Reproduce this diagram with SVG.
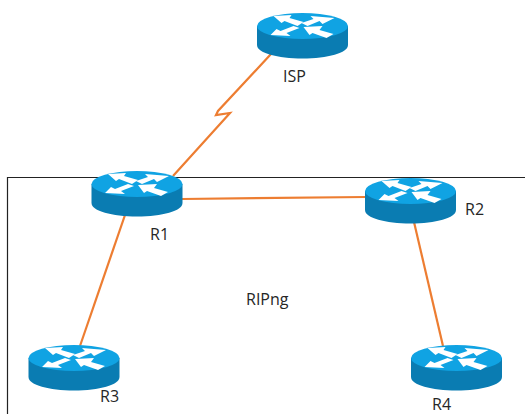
<svg xmlns="http://www.w3.org/2000/svg" width="525" height="414" viewBox="0 0 525 414">
<style>
.frame{fill:none;stroke:#222;stroke-width:1.2}
.link{fill:none;stroke:#ed7d31;stroke-width:2.2;stroke-linejoin:miter}
.lbl{font-family:"Open Sans","Liberation Sans",sans-serif;font-size:16px;fill:#262626}
.side{fill:#0a7cb2}
.top{fill:#10a3e3}
.arr{fill:#ffffff}
</style>
<defs>
<g id="router">
<path class="side" d="M-45.500 0V19C-45.500 27 -25 32.500 0 32.500S45.500 27 45.500 19V0Z"/>
<ellipse class="top" cx="0" cy="0" rx="45.500" ry="13"/>
<path class="arr" d="M-29 -10L-11 -11L-13 -8L1 -4L-5 0L-18 -5L-21 -3Z"/>
<path class="arr" d="M32 -8L20 -2L17 -5L5 0L-1 -3L11 -7L8 -10Z"/>
<path class="arr" d="M-32 9L-26 3L-22 5L-9 0L-3 2L-16 7L-12 10Z"/>
<path class="arr" d="M1 1L20 0L17 4L31 8L24 12L10 7L7 9Z"/>
</g>
</defs>
<g id="boundary"><path class="frame" d="M7.500 414V177.500H525"/></g>
<g id="connectors">
<path class="link" d="M271 54L218 111L216 115L230 113L173 176"/>
<path class="link" d="M182 199L366 197"/>
<path class="link" d="M125 215L80 346"/>
<path class="link" d="M414 222L443 346"/>
</g>
<g id="ISP"><use href="#router" x="302.500" y="26"/><text class="lbl" x="283" y="82">ISP</text></g>
<g id="R1"><use href="#router" x="137" y="184"/><text class="lbl" x="150" y="240">R1</text></g>
<g id="R2"><use href="#router" x="410.500" y="191"/><text class="lbl" x="465" y="215">R2</text></g>
<g id="R3"><use href="#router" x="74" y="358"/><text class="lbl" x="100" y="402">R3</text></g>
<g id="R4"><use href="#router" x="456.500" y="358"/><text class="lbl" x="432" y="410">R4</text></g>
<g id="area-label"><text class="lbl" x="246" y="305">RIPng</text></g>
</svg>
